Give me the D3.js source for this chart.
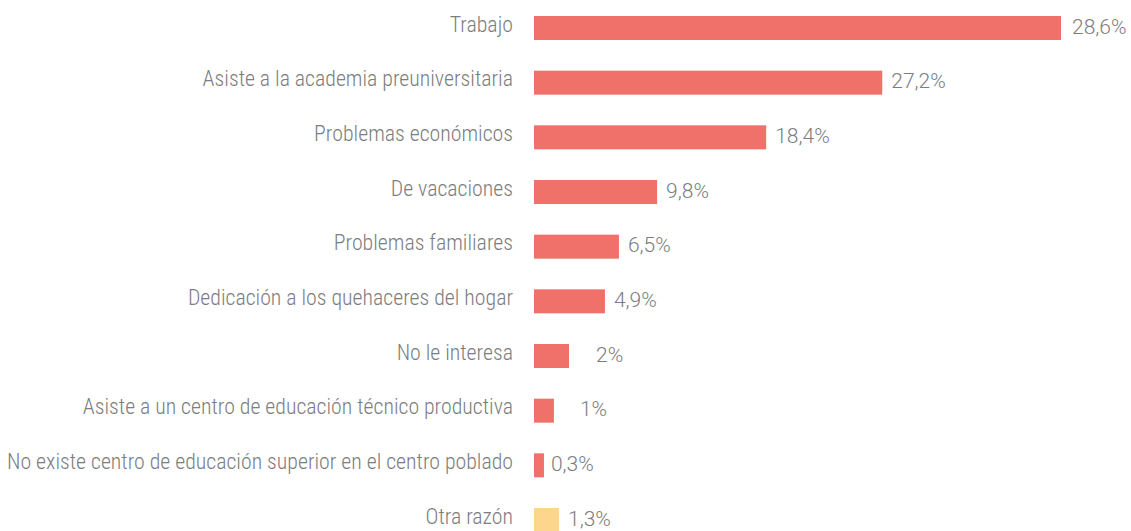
<!DOCTYPE html>
<html>
<head>
<meta charset="utf-8">
<script src="https://cdn.jsdelivr.net/npm/d3@7"></script>
<style>
  html, body { margin: 0; padding: 0; background: #ffffff; }
  svg { display: block; }
  .cat { font-family: "Roboto Condensed", "Liberation Sans Narrow", "DejaVu Sans Condensed", sans-serif; font-stretch: condensed; font-weight: 300; }
  .val { font-family: Roboto, "Liberation Sans", sans-serif; font-weight: 300; }
</style>
</head>
<body>
<svg id="chart" width="1131" height="531"></svg>
<script>
// Categories (top to bottom)
const categories = [
  "Trabajo",
  "Asiste a la academia preuniversitaria",
  "Problemas económicos",
  "De vacaciones",
  "Problemas familiares",
  "Dedicación a los quehaceres del hogar",
  "No le interesa",
  "Asiste a un centro de educación técnico productiva",
  "No existe centro de educación superior en el centro poblado",
  "Otra razón"
];
// Printed percentages
const valueLabels = ["28,6%", "27,2%", "18,4%", "9,8%", "6,5%", "4,9%", "2%", "1%", "0,3%", "1,3%"];
// Bar lengths as drawn in the picture (same unit as the first bar, 28.6)
const barValues = [28.6, 18.9, 12.6, 6.68, 4.61, 3.85, 1.9, 1.08, 0.54, 1.36];
// Group of each bar (main reasons vs. other)
const groups = ["main", "main", "main", "main", "main", "main", "main", "main", "main", "other"];

const colors = { main: "#f0706a", other: "#fdd58c" };
const textColor = "#7c7d80";

const svg = d3.select("#chart");
const x = d3.scaleLinear().domain([0, 28.6]).range([534, 1061]);
const y = d3.scaleBand().domain(categories).range([16, 532]).paddingInner(0.561).paddingOuter(0);

const extraGap = {
  "Trabajo": 2,
  "No le interesa": 18,
  "Asiste a un centro de educación técnico productiva": 17,
  "No existe centro de educación superior en el centro poblado": -2
};

const rows = svg.selectAll("g.row")
  .data(categories.map((c, i) => ({ c, v: barValues[i], lab: valueLabels[i], g: groups[i] })))
  .enter().append("g").attr("class", "row");

rows.append("rect")
  .attr("x", x(0))
  .attr("y", d => y(d.c))
  .attr("width", d => x(d.v) - x(0))
  .attr("height", y.bandwidth())
  .attr("fill", d => colors[d.g]);

rows.append("text")
  .attr("class", "cat")
  .attr("x", x(0) - 21)
  .attr("y", d => y(d.c) + 15.8)
  .attr("text-anchor", "end")
  .attr("font-size", 21.8)
  .attr("fill", textColor)
  .text(d => d.c);

rows.append("text")
  .attr("class", "val")
  .attr("x", d => x(d.v) + 9 + (extraGap[d.c] || 0))
  .attr("y", d => y(d.c) + 17.5)
  .attr("font-size", 21)
  .attr("fill", textColor)
  .text(d => d.lab);
</script>
</body>
</html>
